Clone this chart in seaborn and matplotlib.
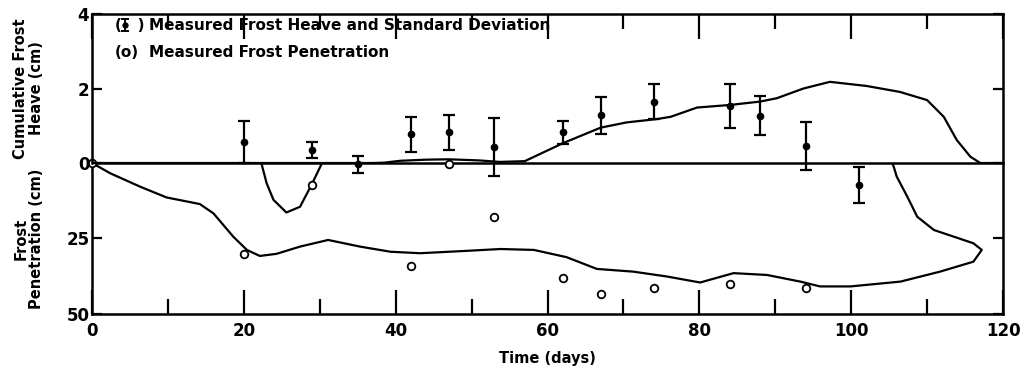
import numpy as np
import pandas as pd
import matplotlib
matplotlib.use("Agg")
import matplotlib.pyplot as plt
import seaborn as sns

# ---- data ----
heave_days = [20, 29, 35, 42, 47, 53, 62, 67, 74, 84, 88, 94, 101]
heave_cm = [0.57, 0.35, -0.03, 0.77, 0.82, 0.42, 0.83, 1.28, 1.65, 1.53, 1.27, 0.46, -0.60]
heave_sd = [0.57, 0.22, 0.23, 0.47, 0.47, 0.78, 0.31, 0.50, 0.46, 0.58, 0.53, 0.65, 0.48]

heave_curve_days = [0, 37, 38.5, 40.6, 44, 47, 51, 53.7, 57, 62, 67, 70.4, 74.4, 76.2,
                    79.7, 84.1, 88, 90.2, 93.7, 97.2, 102, 106.4, 110, 112.2, 113.9,
                    115.7, 117, 120]
heave_curve_cm = [0, 0, 0.01, 0.06, 0.09, 0.10, 0.07, 0.03, 0.05, 0.53, 0.95, 1.09, 1.18, 1.24,
                  1.49, 1.56, 1.65, 1.74, 2.00, 2.18, 2.07, 1.91, 1.69, 1.24, 0.62,
                  0.17, 0.0, 0.0]

pen_days = [0, 20, 29, 42, 47, 53, 62, 67, 74, 84, 94]
pen_cm = [0, 30.1, 7.3, 34.1, 0.4, 17.8, 38.0, 43.4, 41.5, 40.0, 41.3]

# frost front: from origin to day 117 and back up to surface at day 105.5
front_days = [0, 2.4, 6.3, 9.8, 14.2, 16, 18.6, 20.4, 22.1, 24.3, 27.4, 31.1, 35.3, 39.3,
              43.2, 49.4, 53.8, 58.2, 62.5, 66.5, 71.3, 75.7, 80.1, 84.5, 88.9, 93.3,
              95.9, 99.9, 106.5, 111.7, 116.1, 117.2, 116.1, 110.9, 108.7, 107.4,
              106.0, 105.6, 105.4]
front_cm = [0, 3.4, 7.8, 11.4, 13.6, 16.7, 24.4, 28.8, 30.8, 30.1, 27.7, 25.5, 27.7, 29.4,
            29.9, 29.1, 28.5, 28.8, 31.2, 35.1, 36.0, 37.6, 39.6, 36.5, 37.1, 39.3,
            40.9, 40.9, 39.3, 36.0, 32.7, 28.8, 26.6, 22.2, 17.8, 11.2,
            4.5, 1.2, 0.0]

thaw_days = [22.3, 23.0, 23.9, 25.6, 27.4, 28.9, 30.3]
thaw_cm = [0, 6.7, 12.2, 16.4, 14.5, 7.3, 0]

x_ticks = [0, 20, 40, 60, 80, 100, 120]
x_minor = [10, 30, 50, 70, 90, 110]

# ---- figure ----
sns.set_style("ticks")
plt.rcParams["font.family"] = ["DejaVu Sans"]
plt.rcParams["font.weight"] = "bold"
plt.rcParams["text.color"] = "black"
plt.rcParams["axes.labelcolor"] = "black"
plt.rcParams["xtick.color"] = "black"
plt.rcParams["ytick.color"] = "black"

fig = plt.figure(figsize=(10.26, 3.8), dpi=100)
L, R = 0.0897, 0.9776
ax1 = fig.add_axes([L, 0.571, R - L, 0.963 - 0.571])
ax2 = fig.add_axes([L, 0.174, R - L, 0.571 - 0.174], sharex=ax1)
ax1.set_zorder(3)
ax1.patch.set_visible(False)

lw = 1.6
# top: heave
sns.lineplot(x=heave_curve_days, y=heave_curve_cm, ax=ax1, color="black", lw=lw,
             sort=False, estimator=None)
eb = ax1.errorbar(heave_days, heave_cm, yerr=heave_sd, fmt="o", color="black", ms=4.5,
                  capsize=4, capthick=1.6, elinewidth=1.6, zorder=5)
for art in eb.lines[1] + eb.lines[2] + (eb.lines[0],):
    art.set_clip_on(False)

# bottom: penetration
sns.lineplot(x=front_days, y=front_cm, ax=ax2, color="black", lw=lw,
             sort=False, estimator=None)
sns.lineplot(x=thaw_days, y=thaw_cm, ax=ax2, color="black", lw=lw,
             sort=False, estimator=None)
sns.scatterplot(x=pen_days, y=pen_cm, ax=ax2, s=30, facecolor="white",
                edgecolor="black", linewidth=1.3, zorder=6, clip_on=False)

ax1.set_xlim(0, 120)
ax1.set_ylim(0, 4)
ax2.set_ylim(50, 0)

for ax in (ax1, ax2):
    for s in ax.spines.values():
        s.set_linewidth(1.8)
        s.set_color("black")
ax1.spines["bottom"].set_visible(False)

ax1.set_yticks([0, 2, 4])
ax1.set_yticklabels(["0", "2", "4"])
ax2.set_yticks([25, 50])
ax2.set_yticklabels(["25", "50"])
ax2.set_xticks(x_ticks)
ax2.set_xticks(x_minor, minor=True)

ax1.tick_params(axis="x", which="major", direction="in", top=True, bottom=False,
                labelbottom=False, length=18, width=1.6)
ax1.tick_params(axis="x", which="minor", direction="in", top=True, bottom=False,
                length=11, width=1.6)
ax2.tick_params(axis="x", which="major", direction="in", top=False, bottom=True,
                length=17, width=1.6, labelsize=12, pad=6)
ax2.tick_params(axis="x", which="minor", direction="in", top=False, bottom=True,
                length=11, width=1.6)
for ax in (ax1, ax2):
    ax.tick_params(axis="y", direction="in", left=True, right=True, length=7,
                   width=1.6, labelsize=12, pad=2)

ax1.set_ylabel("Cumulative Frost\nHeave (cm)", fontsize=10.5, fontweight="bold",
               linespacing=1.05)
ax2.set_ylabel("Frost\nPenetration (cm)", fontsize=10.5, fontweight="bold",
               linespacing=1.05)
ax1.yaxis.set_label_coords(-0.053, 0.5)
ax2.yaxis.set_label_coords(-0.053, 0.5)
ax2.set_xlabel("Time (days)", fontsize=10.5, fontweight="bold", labelpad=8)

# legend text
ax1.text(0.025, 0.925, "(   )", transform=ax1.transAxes, fontsize=11,
         fontweight="bold", va="center")
ax1.text(0.062, 0.925, "Measured Frost Heave and Standard Deviation",
         transform=ax1.transAxes, fontsize=11, fontweight="bold", va="center")
ax1.text(0.025, 0.74, "(o)", transform=ax1.transAxes, fontsize=11,
         fontweight="bold", va="center")
ax1.text(0.062, 0.74, "Measured Frost Penetration",
         transform=ax1.transAxes, fontsize=11, fontweight="bold", va="center")
ax1.errorbar([4.3], [3.7], yerr=[0.16], fmt="o", color="black", ms=3.5,
             capsize=3, capthick=1.4, elinewidth=1.4)

fig.savefig("out.png", dpi=100, facecolor="white")
